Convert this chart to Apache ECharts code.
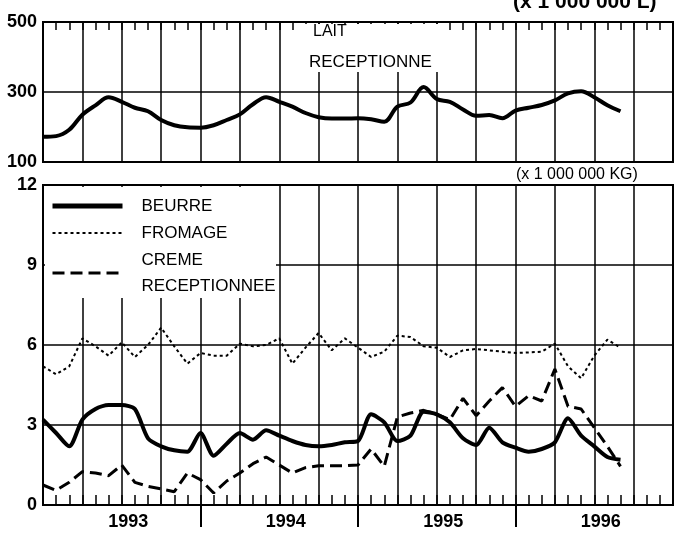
<!DOCTYPE html>
<html lang="fr">
<head>
<meta charset="UTF-8">
<title>Lait réceptionné</title>
<script src="https://cdn.jsdelivr.net/npm/echarts@6/dist/echarts.min.js"></script>
<style>html,body{margin:0;padding:0;background:#fff;}</style>
</head>
<body>
<div id="main" style="width:679px;height:535px;"></div>
<script type="text/javascript">
var years = ['1993', '1994', '1995', '1996'];
// valeurs mensuelles, index 0 = janvier 1993
var lait = [172, 174, 192, 235, 262, 285, 272, 255, 245, 220, 205, 199, 198, 205, 220,
    236, 265, 285, 272, 258, 240, 228, 224, 224, 225, 222, 215, 258, 270, 314,
    280, 272, 250, 232, 234, 225, 247, 255, 263, 276, 296, 302, 285, 262, 245];
var beurre = [3.2, 2.7, 2.2, 3.2, 3.6, 3.75, 3.75, 3.6, 2.5, 2.2, 2.05, 2.0, 2.7, 1.85, 2.3,
    2.7, 2.45, 2.8, 2.6, 2.4, 2.25, 2.2, 2.25, 2.35, 2.4, 3.4, 3.1, 2.4, 2.6, 3.5,
    3.4, 3.1, 2.5, 2.25, 2.9, 2.35, 2.15, 2.0, 2.1, 2.35, 3.25, 2.6, 2.2, 1.8, 1.7];
var fromage = [5.2, 4.9, 5.2, 6.25, 5.95, 5.6, 6.1, 5.55, 6.0, 6.65, 5.95, 5.3, 5.7, 5.6, 5.6,
    6.05, 5.95, 6.0, 6.25, 5.3, 5.9, 6.45, 5.8, 6.25, 5.9, 5.55, 5.75, 6.35, 6.3, 5.95,
    5.9, 5.55, 5.8, 5.85, 5.8, 5.75, 5.7, 5.72, 5.75, 6.05, 5.2, 4.75, 5.6, 6.2, 5.9];
var creme = [0.75, 0.55, 0.85, 1.25, 1.2, 1.1, 1.5, 0.85, 0.7, 0.6, 0.5, 1.2, 0.95, 0.45, 0.9,
    1.2, 1.55, 1.8, 1.5, 1.2, 1.4, 1.47, 1.47, 1.47, 1.5, 2.1, 1.45, 3.3, 3.45, 3.55,
    3.4, 3.2, 4.0, 3.35, 3.9, 4.4, 3.7, 4.1, 3.9, 5.1, 3.7, 3.6, 2.9, 2.2, 1.45];

function pts(arr) {
    return arr.map(function (v, i) { return [i, v]; });
}

var font = 'Liberation Sans, Arial, sans-serif';
var black = '#000';

var myChart = echarts.init(document.getElementById('main'));

function monthAxis(grid, pos) {
    return {
        type: 'value', gridIndex: grid, position: pos,
        min: 0, max: 48, interval: 3,
        axisLine: { show: true, lineStyle: { color: black, width: 2 } },
        axisTick: { show: true, inside: true, length: pos === 'top' ? 8 : 10, lineStyle: { color: black, width: 1.5 } },
        minorTick: { show: true, splitNumber: 3, length: pos === 'top' ? 8 : 10, lineStyle: { color: black, width: 1.5 } },
        splitLine: { show: true, lineStyle: { color: black, width: 1.5 } },
        axisLabel: { show: false }
    };
}

myChart.setOption({
    backgroundColor: '#fff',
    animation: false,
    grid: [
        { left: 43, right: 6, top: 22, height: 140, show: true, borderColor: black, borderWidth: 2 },
        { left: 43, right: 6, top: 185, height: 320, show: true, borderColor: black, borderWidth: 2 }
    ],
    xAxis: [
        monthAxis(0, 'top'),
        monthAxis(1, 'bottom'),
        {
            type: 'value', gridIndex: 1, position: 'bottom',
            min: 0, max: 48,
            axisLine: { show: false },
            splitLine: { show: false },
            axisTick: { show: true, customValues: [12, 24, 36], length: 22, lineStyle: { color: black, width: 2 } },
            axisLabel: {
                customValues: [6.5, 18.5, 30.5, 42.5],
                formatter: function (v) { return years[Math.floor(v / 12)]; },
                color: black, fontFamily: font, fontWeight: 'bold', fontSize: 18, margin: 8
            }
        }
    ],
    yAxis: [
        {
            type: 'value', gridIndex: 0, min: 100, max: 500, interval: 200,
            axisLine: { show: true, lineStyle: { color: black, width: 2 } },
            axisTick: { show: false },
            splitLine: { show: true, lineStyle: { color: black, width: 1.5 } },
            axisLabel: { color: black, fontFamily: font, fontWeight: 'bold', fontSize: 18, margin: 6 }
        },
        {
            type: 'value', gridIndex: 1, min: 0, max: 12, interval: 3,
            axisLine: { show: true, lineStyle: { color: black, width: 2 } },
            axisTick: { show: false },
            splitLine: { show: true, lineStyle: { color: black, width: 1.5 } },
            axisLabel: { color: black, fontFamily: font, fontWeight: 'bold', fontSize: 18, margin: 6 }
        }
    ],
    legend: {
        z: 10,
        orient: 'vertical',
        left: 50, top: 193,
        padding: 0,
        itemGap: 1,
        itemWidth: 70, itemHeight: 14,
        itemStyle: { color: 'transparent', borderColor: 'transparent', borderWidth: 0, opacity: 0 },
        data: [
            { name: 'BEURRE', lineStyle: { width: 5 } },
            { name: 'FROMAGE', lineStyle: { width: 2 } },
            { name: 'CREME\nRECEPTIONNEE', lineStyle: { width: 3 } }
        ],
        textStyle: { color: black, fontFamily: font, fontSize: 17, lineHeight: 26, padding: [0, 0, 0, 14] }
    },
    graphic: [
        { type: 'rect', z: 5, shape: { x: 45, y: 187, width: 231, height: 111 }, style: { fill: '#fff' } },
        { type: 'rect', z: 5, shape: { x: 300, y: 24, width: 146, height: 48 }, style: { fill: '#fff' } },
        { type: 'text', z: 6, style: { text: 'LAIT', x: 313, y: 24, fill: black, font: '16px ' + font } },
        { type: 'text', z: 6, style: { text: 'RECEPTIONNE', x: 309, y: 54, fill: black, font: '17px ' + font } },
        { type: 'text', z: 6, style: { text: '(x 1 000 000 L)', x: 513, y: -8, fill: black, font: 'bold 21px ' + font } },
        { type: 'text', z: 6, style: { text: '(x 1 000 000 KG)', x: 516, y: 167, fill: black, font: '16px ' + font } }
    ],
    series: [
        {
            name: 'LAIT', type: 'line', xAxisIndex: 0, yAxisIndex: 0,
            data: pts(lait), symbol: 'none', smooth: 0.35,
            lineStyle: { color: black, width: 4 }
        },
        {
            name: 'BEURRE', type: 'line', xAxisIndex: 1, yAxisIndex: 1,
            data: pts(beurre), symbol: 'none', smooth: 0.25,
            itemStyle: { color: black },
            lineStyle: { color: black, width: 4 }
        },
        {
            name: 'FROMAGE', type: 'line', xAxisIndex: 1, yAxisIndex: 1,
            data: pts(fromage), symbol: 'none',
            itemStyle: { color: black },
            lineStyle: { color: black, width: 2, type: [3, 3] }
        },
        {
            name: 'CREME\nRECEPTIONNEE', type: 'line', xAxisIndex: 1, yAxisIndex: 1,
            data: pts(creme), symbol: 'none',
            itemStyle: { color: black },
            lineStyle: { color: black, width: 3, type: [12, 6] }
        }
    ]
});
</script>
</body>
</html>
